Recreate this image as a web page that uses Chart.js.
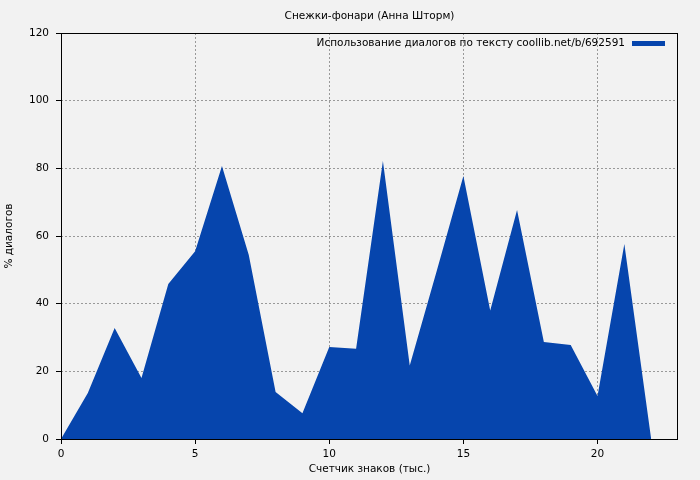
<!DOCTYPE html>
<html>
<head>
<meta charset="utf-8">
<script src="https://cdn.jsdelivr.net/npm/chart.js@4.4.0/dist/chart.umd.min.js"></script>
<style>
  html, body { margin: 0; padding: 0; background: #f2f2f2; }
</style>
</head>
<body>
<canvas id="myChart" width="700" height="480"></canvas>
<script>
// счетчик знаков (тыс.) и % диалогов
var xValues = [0, 1, 2, 3, 4, 5, 6, 7, 8, 9, 10, 11, 12, 13, 14, 15, 16, 17, 18, 19, 20, 21, 22];
var dialogPercent = [0, 13.6, 32.8, 18, 45.8, 55.5, 80.7, 54.4, 13.9, 7.6, 27.2, 26.7, 82.2, 21.7, 49.5, 77.7, 38, 67.7, 28.7, 27.8, 12.7, 57.6, 0];
var xTicks = [0, 5, 10, 15, 20];
var yTicks = [0, 20, 40, 60, 80, 100, 120];

var chartTitle = 'Снежки-фонари (Анна Шторм)';
var legendLabel = 'Использование диалогов по тексту coollib.net/b/692591';
var fillColor = '#0645ad';
var fontFamily = '"DejaVu Sans", sans-serif';
var fontSize = 10.5;

var points = [];
for (var i = 0; i < xValues.length; i++) {
    points.push({ x: xValues[i], y: dialogPercent[i] });
}

function keepTicks(list) {
    return function (scale) {
        scale.ticks = list.map(function (v) { return { value: v }; });
    };
}

var extras = {
    id: 'extras',
    beforeDraw: function (chart) {
        var ctx = chart.ctx;
        ctx.save();
        ctx.fillStyle = '#f2f2f2';
        ctx.fillRect(0, 0, chart.width, chart.height);
        ctx.restore();
    },
    afterDraw: function (chart) {
        var ctx = chart.ctx;
        var a = chart.chartArea;
        ctx.save();
        // frame
        ctx.strokeStyle = '#000';
        ctx.lineWidth = 1;
        ctx.strokeRect(a.left + 0.5, a.top + 0.5, a.right - a.left - 1, a.bottom - a.top);
        // title
        ctx.fillStyle = '#000';
        ctx.font = fontSize + 'px ' + fontFamily;
        ctx.textAlign = 'center';
        ctx.textBaseline = 'middle';
        ctx.fillText(chartTitle, (a.left + a.right) / 2, 16);
        // legend
        ctx.textAlign = 'right';
        ctx.fillText(legendLabel, a.right - 53, 43);
        ctx.fillStyle = fillColor;
        ctx.fillRect(a.right - 46, 41, 33, 5);
        ctx.restore();
    }
};

var gridOpts = {
    color: '#999',
    tickColor: '#000',
    tickBorderDash: [],
    tickLength: 5
};

var ctx = document.getElementById('myChart').getContext('2d');
var myChart = new Chart(ctx, {
    type: 'line',
    data: {
        datasets: [{
            label: legendLabel,
            data: points,
            fill: 'origin',
            backgroundColor: fillColor,
            borderWidth: 0,
            pointRadius: 0,
            tension: 0
        }]
    },
    options: {
        responsive: false,
        animation: false,
        layout: { padding: { left: 0, top: 33, right: 22, bottom: 0 } },
        plugins: {
            legend: { display: false },
            tooltip: { enabled: false }
        },
        scales: {
            x: {
                type: 'linear',
                min: 0,
                max: 23,
                afterBuildTicks: keepTicks(xTicks),
                afterFit: function (s) { s.height = 41; },
                border: { display: false, dash: [2, 2] },
                grid: gridOpts,
                ticks: {
                    color: '#000',
                    font: { family: fontFamily, size: fontSize },
                    padding: 4,
                    maxRotation: 0
                },
                title: {
                    display: true,
                    text: 'Счетчик знаков (тыс.)',
                    color: '#000',
                    font: { family: fontFamily, size: fontSize },
                    padding: { top: 0, bottom: 4 }
                }
            },
            y: {
                min: 0,
                max: 120,
                afterBuildTicks: keepTicks(yTicks),
                afterFit: function (s) { s.width = 61; },
                border: { display: false, dash: [2, 2] },
                grid: gridOpts,
                ticks: {
                    color: '#000',
                    font: { family: fontFamily, size: fontSize },
                    padding: 7
                },
                title: {
                    display: true,
                    text: '% диалогов',
                    color: '#000',
                    font: { family: fontFamily, size: fontSize },
                    padding: { top: 3, bottom: 0 }
                }
            }
        }
    },
    plugins: [extras]
});
</script>
</body>
</html>
